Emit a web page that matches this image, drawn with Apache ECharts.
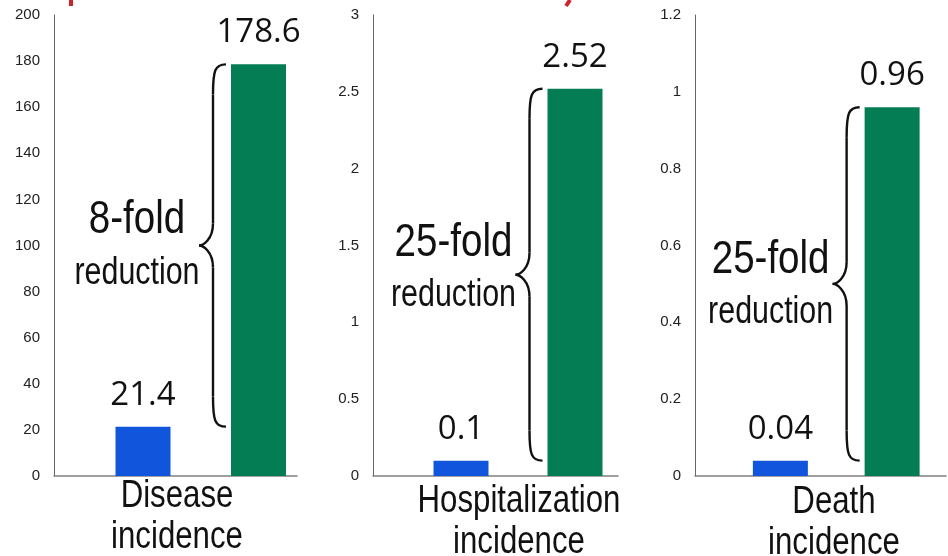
<!DOCTYPE html>
<html><head><meta charset="utf-8">
<script src="https://cdn.jsdelivr.net/npm/echarts@6/dist/echarts.min.js"></script>
<style>html,body{margin:0;padding:0;background:#fff}#c{width:948px;height:556px}</style>
</head><body><div id="c"></div>
<script>
// ---- data ----
const categories = ['Disease\nincidence', 'Hospitalization\nincidence', 'Death\nincidence'];
const groups = ['Vaccinated', 'Unvaccinated'];
const lowValues = [21.4, 0.1, 0.04];
const highValues = [178.6, 2.52, 0.96];
const foldLabels = ['8-fold', '25-fold', '25-fold'];
const reductionLabel = 'reduction';
const yMax = [200, 3, 1.2];
const yStep = [20, 0.5, 0.2];

// ---- layout / style ----
const colors = ['#1155dd', '#047c54'];
const axisGrids = [{left: 54, width: 243}, {left: 373, width: 245}, {left: 695, width: 251}];
const barGrids = [{left: 85.25, width: 231}, {left: 404, width: 228}, {left: 724.5, width: 234}];
const gridTop = 15, gridBottom = 80;
const catLabelPos = [[177, 476], [519, 481], [834, 482]];
const foldOffsets = [[-25, 28], [-32, 21], [-24, 29]];
const narrowFont = "'Liberation Sans',Arial,sans-serif";

const chart = echarts.init(document.getElementById('c'), null, {renderer: 'canvas'});
const grid = [], xAxis = [], yAxis = [], series = [];
for (let i = 0; i < 3; i++) {
  grid.push({left: axisGrids[i].left, width: axisGrids[i].width, top: gridTop, bottom: gridBottom, containLabel: false});
  grid.push({left: barGrids[i].left, width: barGrids[i].width, top: gridTop, bottom: gridBottom, containLabel: false});
  xAxis.push({type: 'category', gridIndex: 2 * i, data: [''],
    axisLine: {show: true, lineStyle: {color: '#808080', width: 1.5}},
    axisTick: {show: false}, axisLabel: {show: false}});
  xAxis.push({type: 'category', gridIndex: 2 * i + 1, data: groups, show: false});
  yAxis.push({type: 'value', gridIndex: 2 * i, min: 0, max: yMax[i], interval: yStep[i],
    axisLine: {show: true, lineStyle: {color: '#666', width: 1}},
    axisTick: {show: false}, splitLine: {show: false},
    axisLabel: {color: '#222', fontSize: 15, fontFamily: "'Liberation Sans',Arial,sans-serif", margin: 14}});
  yAxis.push({type: 'value', gridIndex: 2 * i + 1, min: 0, max: yMax[i], interval: yStep[i], show: false});
  series.push({
    type: 'bar', xAxisIndex: 2 * i + 1, yAxisIndex: 2 * i + 1, barWidth: 55,
    data: [{value: lowValues[i], itemStyle: {color: colors[0]}}, {value: highValues[i], itemStyle: {color: colors[1]}}],
    label: {show: true, position: 'top', distance: 15, color: '#111', fontSize: 33, fontFamily: "'Open Sans',sans-serif"},
    silent: true
  });
}
chart.setOption({animation: false, grid, xAxis, yAxis, series});

const graphic = [];
const braceStyle = {fill: 'none', stroke: '#111', lineWidth: 2.4};
function curve(x1, y1, c1x, c1y, c2x, c2y, x2, y2) {
  return {type: 'bezierCurve', silent: true, style: braceStyle,
    shape: {x1, y1, x2, y2, cpx1: c1x, cpy1: c1y, cpx2: c2x, cpy2: c2y}};
}
function seg(x1, y1, x2, y2) {
  return {type: 'line', silent: true, style: braceStyle, shape: {x1, y1, x2, y2}};
}
function narrowText(text, x, y, size, sx, extra) {
  return Object.assign({type: 'text', x, y, scaleX: sx, silent: true,
    style: Object.assign({text, font: `${size}px ${narrowFont}`, fill: '#111', textAlign: 'center', textVerticalAlign: 'middle'}, extra || {})});
}
for (let i = 0; i < 3; i++) {
  const hi = chart.convertToPixel({gridIndex: 2 * i + 1}, [1, highValues[i]]);
  const lo = chart.convertToPixel({gridIndex: 2 * i + 1}, [0, lowValues[i]]);
  const xe = hi[0] - 27.5 - 5, xv = xe - 13, xp = xe - 27;
  const yt = hi[1], yb = lo[1], ym = (yt + yb) / 2;
  graphic.push(curve(xe, yt, xv + 2, yt, xv, yt + 6, xv, yt + 30));
  graphic.push(seg(xv, yt + 30, xv, ym - 22));
  graphic.push(curve(xv, ym - 22, xv, ym - 6, xp + 4, ym, xp, ym));
  graphic.push(curve(xp, ym, xp + 4, ym, xv, ym + 6, xv, ym + 22));
  graphic.push(seg(xv, ym + 22, xv, yb - 30));
  graphic.push(curve(xv, yb - 30, xv, yb - 6, xv + 2, yb, xe, yb));
  graphic.push(narrowText(foldLabels[i], xp - 62, ym + foldOffsets[i][0], 47, 0.82));
  graphic.push(narrowText(reductionLabel, xp - 62, ym + foldOffsets[i][1], 38, 0.8));
  graphic.push(narrowText(categories[i], catLabelPos[i][0], catLabelPos[i][1], 39, 0.8,
    {lineHeight: 41, textVerticalAlign: 'top'}));
}
graphic.push({type: 'rect', shape: {x: 69, y: 0, width: 4, height: 6}, style: {fill: '#d0202a'}});
graphic.push({type: 'line', shape: {x1: 570, y1: 0, x2: 566, y2: 6}, style: {stroke: '#d0202a', lineWidth: 4}});
chart.setOption({graphic});
</script></body></html>
